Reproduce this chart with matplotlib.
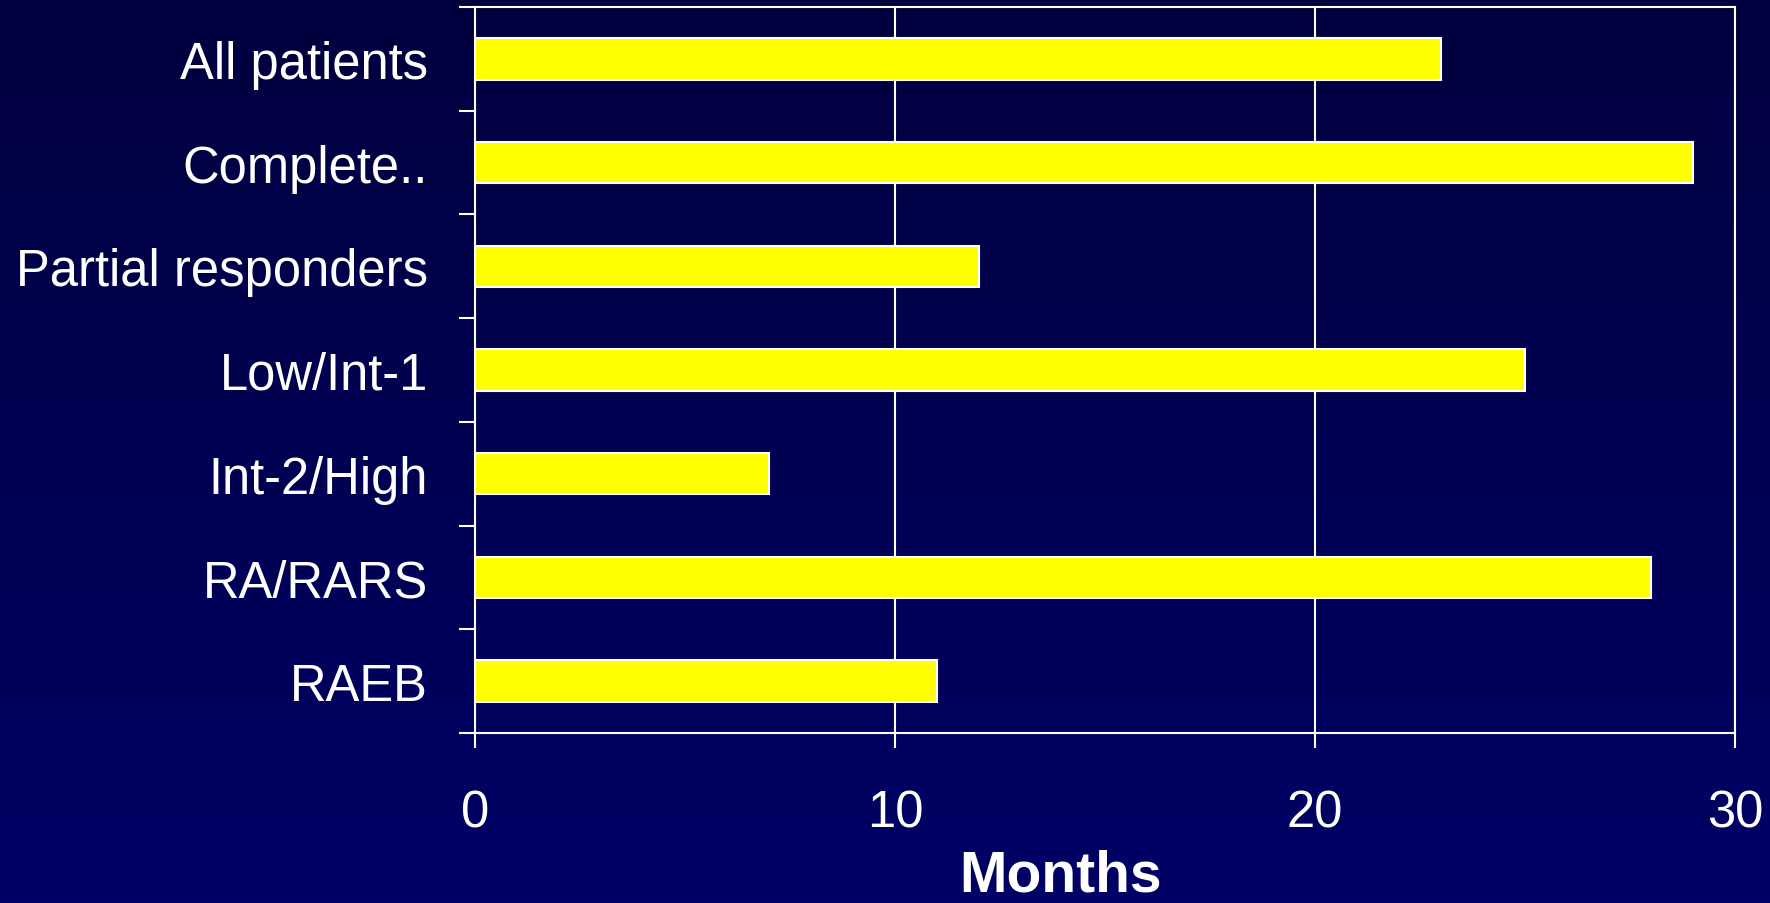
import matplotlib.pyplot as plt
import numpy as np

categories = ['All patients', 'Complete..', 'Partial responders', 'Low/Int-1',
              'Int-2/High', 'RA/RARS', 'RAEB']
months = [23, 29, 12, 25, 7, 28, 11]
xticks = [0, 10, 20, 30]

plt.rcParams['font.family'] = ['Liberation Sans', 'DejaVu Sans']

fig = plt.figure(figsize=(17.7, 9.04), dpi=100)

# background gradient, dark navy on top to blue at bottom
bg = fig.add_axes([0, 0, 1, 1], zorder=-10)
grad = np.linspace(0, 1, 256).reshape(-1, 1)
top = np.array([0, 0, 0x3e]) / 255
bottom = np.array([0, 0, 0x66]) / 255
img = top + grad[:, :, None] * (bottom - top)
bg.imshow(img, aspect='auto', extent=[0, 1, 0, 1])
bg.axis('off')

ax = fig.add_axes([475/1770, 1 - 734/904, (1735-475)/1770, (734-8)/904])
ax.patch.set_alpha(0)

y = np.arange(len(categories))
ax.barh(y, months, height=0.4, color='#FFFF00', edgecolor='white', linewidth=1.5, zorder=3)
ax.set_ylim(len(categories) - 0.5, -0.5)
ax.set_xlim(0, 30)

ax.set_xticks(xticks)
ax.set_yticks(y)
ax.set_yticklabels(categories)
ax.set_yticks(np.arange(-0.5, len(categories)), minor=True)
ax.tick_params(axis='y', which='major', length=0, pad=34, labelsize=36.5, labelcolor='white')
ax.tick_params(axis='y', which='minor', length=11.5, width=1.5, color='white')
ax.tick_params(axis='x', length=11, width=1.5, color='white', pad=29, labelsize=36.5, labelcolor='white')

ax.grid(axis='x', color='white', linewidth=1.5, zorder=0)
for s in ax.spines.values():
    s.set_color('white')
    s.set_linewidth(1.5)

fig.text(1061/1770, 0.0, 'Months', ha='center', va='bottom', fontsize=41,
         fontweight='bold', color='white')

plt.savefig('out.png', dpi=100)
